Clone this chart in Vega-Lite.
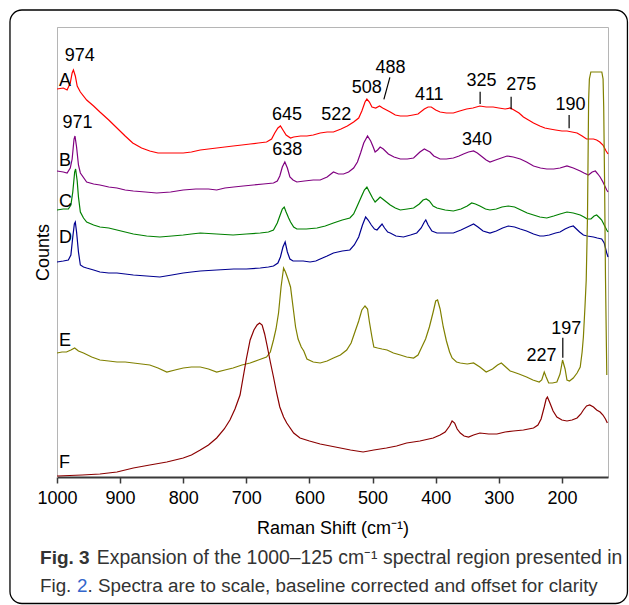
{
  "$schema": "https://vega.github.io/schema/vega-lite/v6.json",
  "width": 551,
  "height": 450,
  "autosize": "none",
  "padding": {"left": 57, "top": 27, "right": 21, "bottom": 128},
  "background": "white",
  "config": {
    "font": "Liberation Sans",
    "view": {"stroke": "#b5b5b5", "strokeWidth": 1},
    "axis": {"grid": false}
  },
  "datasets": {
    "spectra": [
      {"s":"A","w":1000,"v":388},{"s":"A","w":990,"v":389},{"s":"A","w":984,"v":387},{"s":"A","w":979,"v":394},{"s":"A","w":976,"v":404},{"s":"A","w":974,"v":407},{"s":"A","w":971,"v":401},{"s":"A","w":968,"v":391},{"s":"A","w":963,"v":385},{"s":"A","w":953,"v":377},{"s":"A","w":942,"v":371},{"s":"A","w":932,"v":365},{"s":"A","w":918,"v":357},{"s":"A","w":905,"v":349},{"s":"A","w":892,"v":341},{"s":"A","w":880,"v":334},{"s":"A","w":866,"v":329},{"s":"A","w":853,"v":326},{"s":"A","w":840,"v":324},{"s":"A","w":826,"v":324},{"s":"A","w":813,"v":324},{"s":"A","w":800,"v":324},{"s":"A","w":787,"v":325},{"s":"A","w":773,"v":327},{"s":"A","w":760,"v":328},{"s":"A","w":747,"v":329},{"s":"A","w":734,"v":330},{"s":"A","w":721,"v":331},{"s":"A","w":707,"v":332},{"s":"A","w":694,"v":333},{"s":"A","w":681,"v":334},{"s":"A","w":668,"v":335},{"s":"A","w":660,"v":338},{"s":"A","w":655,"v":344},{"s":"A","w":650,"v":349},{"s":"A","w":646,"v":351},{"s":"A","w":642,"v":347},{"s":"A","w":637,"v":342},{"s":"A","w":630,"v":339},{"s":"A","w":625,"v":340},{"s":"A","w":614,"v":341},{"s":"A","w":604,"v":341},{"s":"A","w":594,"v":342},{"s":"A","w":583,"v":344},{"s":"A","w":572,"v":345},{"s":"A","w":562,"v":345},{"s":"A","w":550,"v":348},{"s":"A","w":540,"v":351},{"s":"A","w":530,"v":355},{"s":"A","w":522,"v":359},{"s":"A","w":517,"v":366},{"s":"A","w":512,"v":375},{"s":"A","w":509,"v":378},{"s":"A","w":505,"v":375},{"s":"A","w":501,"v":370},{"s":"A","w":495,"v":369},{"s":"A","w":489,"v":371},{"s":"A","w":484,"v":369},{"s":"A","w":478,"v":367},{"s":"A","w":472,"v":365},{"s":"A","w":464,"v":362},{"s":"A","w":456,"v":361},{"s":"A","w":445,"v":361},{"s":"A","w":436,"v":362},{"s":"A","w":428,"v":363},{"s":"A","w":418,"v":368},{"s":"A","w":412,"v":370},{"s":"A","w":407,"v":370},{"s":"A","w":400,"v":367},{"s":"A","w":393,"v":365},{"s":"A","w":383,"v":364},{"s":"A","w":372,"v":364},{"s":"A","w":362,"v":366},{"s":"A","w":351,"v":368},{"s":"A","w":341,"v":369},{"s":"A","w":330,"v":371},{"s":"A","w":320,"v":370},{"s":"A","w":309,"v":370},{"s":"A","w":300,"v":369},{"s":"A","w":290,"v":368},{"s":"A","w":282,"v":369},{"s":"A","w":276,"v":367},{"s":"A","w":268,"v":364},{"s":"A","w":261,"v":360},{"s":"A","w":253,"v":357},{"s":"A","w":245,"v":354},{"s":"A","w":235,"v":351},{"s":"A","w":227,"v":349},{"s":"A","w":219,"v":348},{"s":"A","w":210,"v":347},{"s":"A","w":200,"v":346},{"s":"A","w":192,"v":346},{"s":"A","w":184,"v":345},{"s":"A","w":176,"v":344},{"s":"A","w":168,"v":341},{"s":"A","w":161,"v":338},{"s":"A","w":155,"v":338},{"s":"A","w":150,"v":338},{"s":"A","w":145,"v":337},{"s":"A","w":140,"v":335},{"s":"A","w":135,"v":332},{"s":"A","w":130,"v":326},{"s":"A","w":127,"v":323},
      {"s":"B","w":1000,"v":306},{"s":"B","w":990,"v":305},{"s":"B","w":984,"v":304},{"s":"B","w":979,"v":309},{"s":"B","w":976,"v":318},{"s":"B","w":973,"v":338},{"s":"B","w":971.5,"v":341},{"s":"B","w":969,"v":330},{"s":"B","w":966,"v":312},{"s":"B","w":963,"v":304},{"s":"B","w":953,"v":295},{"s":"B","w":942,"v":293},{"s":"B","w":932,"v":292},{"s":"B","w":918,"v":290},{"s":"B","w":905,"v":289},{"s":"B","w":892,"v":287},{"s":"B","w":879,"v":286},{"s":"B","w":860,"v":285},{"s":"B","w":842,"v":284},{"s":"B","w":820,"v":285},{"s":"B","w":800,"v":287},{"s":"B","w":780,"v":288},{"s":"B","w":760,"v":288},{"s":"B","w":747,"v":287},{"s":"B","w":734,"v":289},{"s":"B","w":720,"v":290},{"s":"B","w":705,"v":291},{"s":"B","w":689,"v":292},{"s":"B","w":673,"v":293},{"s":"B","w":657,"v":294},{"s":"B","w":651,"v":296},{"s":"B","w":647,"v":301},{"s":"B","w":643,"v":310},{"s":"B","w":639,"v":315},{"s":"B","w":635,"v":309},{"s":"B","w":631,"v":300},{"s":"B","w":626,"v":297},{"s":"B","w":620,"v":295},{"s":"B","w":608,"v":296},{"s":"B","w":594,"v":297},{"s":"B","w":583,"v":297},{"s":"B","w":572,"v":300},{"s":"B","w":562,"v":305},{"s":"B","w":554,"v":303},{"s":"B","w":546,"v":303},{"s":"B","w":538,"v":305},{"s":"B","w":530,"v":309},{"s":"B","w":524,"v":315},{"s":"B","w":519,"v":324},{"s":"B","w":514,"v":334},{"s":"B","w":508,"v":341},{"s":"B","w":503,"v":336},{"s":"B","w":499,"v":330},{"s":"B","w":496,"v":325},{"s":"B","w":492,"v":327},{"s":"B","w":488,"v":330},{"s":"B","w":483,"v":328},{"s":"B","w":475,"v":323},{"s":"B","w":466,"v":320},{"s":"B","w":456,"v":318},{"s":"B","w":445,"v":318},{"s":"B","w":435,"v":319},{"s":"B","w":425,"v":325},{"s":"B","w":418,"v":328},{"s":"B","w":412,"v":326},{"s":"B","w":409,"v":325},{"s":"B","w":403,"v":321},{"s":"B","w":393,"v":318},{"s":"B","w":383,"v":318},{"s":"B","w":372,"v":319},{"s":"B","w":363,"v":321},{"s":"B","w":356,"v":323},{"s":"B","w":348,"v":325},{"s":"B","w":340,"v":326},{"s":"B","w":334,"v":324},{"s":"B","w":326,"v":320},{"s":"B","w":320,"v":317},{"s":"B","w":314,"v":315},{"s":"B","w":305,"v":317},{"s":"B","w":296,"v":319},{"s":"B","w":287,"v":321},{"s":"B","w":277,"v":320},{"s":"B","w":266,"v":318},{"s":"B","w":256,"v":315},{"s":"B","w":245,"v":311},{"s":"B","w":234,"v":309},{"s":"B","w":224,"v":308},{"s":"B","w":213,"v":308},{"s":"B","w":203,"v":309},{"s":"B","w":192,"v":311},{"s":"B","w":182,"v":309},{"s":"B","w":171,"v":306},{"s":"B","w":165,"v":304},{"s":"B","w":158,"v":302},{"s":"B","w":152,"v":305},{"s":"B","w":147,"v":306},{"s":"B","w":143,"v":303},{"s":"B","w":139.5,"v":300},{"s":"B","w":135,"v":295},{"s":"B","w":129,"v":287},{"s":"B","w":127,"v":285},
      {"s":"C","w":1000,"v":267},{"s":"C","w":990,"v":268},{"s":"C","w":982,"v":268},{"s":"C","w":978,"v":272},{"s":"C","w":975,"v":285},{"s":"C","w":972,"v":305},{"s":"C","w":970.5,"v":308},{"s":"C","w":968,"v":296},{"s":"C","w":966,"v":280},{"s":"C","w":963,"v":265},{"s":"C","w":958,"v":259},{"s":"C","w":953,"v":255},{"s":"C","w":942,"v":252},{"s":"C","w":932,"v":250},{"s":"C","w":918,"v":249},{"s":"C","w":905,"v":247},{"s":"C","w":892,"v":245},{"s":"C","w":879,"v":243},{"s":"C","w":858,"v":241},{"s":"C","w":837,"v":240},{"s":"C","w":818,"v":241},{"s":"C","w":800,"v":242},{"s":"C","w":787,"v":243},{"s":"C","w":773,"v":244},{"s":"C","w":747,"v":243},{"s":"C","w":721,"v":242},{"s":"C","w":700,"v":243},{"s":"C","w":678,"v":244},{"s":"C","w":665,"v":245},{"s":"C","w":657,"v":247},{"s":"C","w":651,"v":254},{"s":"C","w":647,"v":261},{"s":"C","w":643,"v":268},{"s":"C","w":640,"v":270},{"s":"C","w":637,"v":265},{"s":"C","w":633,"v":259},{"s":"C","w":630,"v":255},{"s":"C","w":625,"v":250},{"s":"C","w":620,"v":248},{"s":"C","w":605,"v":248},{"s":"C","w":588,"v":249},{"s":"C","w":575,"v":251},{"s":"C","w":562,"v":254},{"s":"C","w":548,"v":257},{"s":"C","w":536,"v":259},{"s":"C","w":530,"v":263},{"s":"C","w":525,"v":270},{"s":"C","w":518,"v":280},{"s":"C","w":513,"v":287},{"s":"C","w":509,"v":290},{"s":"C","w":505,"v":285},{"s":"C","w":500,"v":279},{"s":"C","w":496,"v":275},{"s":"C","w":491,"v":278},{"s":"C","w":488,"v":280},{"s":"C","w":484,"v":278},{"s":"C","w":478,"v":275},{"s":"C","w":472,"v":272},{"s":"C","w":464,"v":269},{"s":"C","w":456,"v":267},{"s":"C","w":445,"v":268},{"s":"C","w":435,"v":269},{"s":"C","w":426,"v":273},{"s":"C","w":420,"v":277},{"s":"C","w":415,"v":278},{"s":"C","w":410,"v":276},{"s":"C","w":404,"v":271},{"s":"C","w":398,"v":269},{"s":"C","w":385,"v":267},{"s":"C","w":372,"v":266},{"s":"C","w":360,"v":268},{"s":"C","w":350,"v":271},{"s":"C","w":343,"v":274},{"s":"C","w":337,"v":273},{"s":"C","w":330,"v":271},{"s":"C","w":321,"v":268},{"s":"C","w":314,"v":267},{"s":"C","w":304,"v":268},{"s":"C","w":295,"v":270},{"s":"C","w":285,"v":271},{"s":"C","w":275,"v":270},{"s":"C","w":265,"v":267},{"s":"C","w":255,"v":264},{"s":"C","w":245,"v":262},{"s":"C","w":235,"v":260},{"s":"C","w":224,"v":259},{"s":"C","w":213,"v":261},{"s":"C","w":203,"v":263},{"s":"C","w":192,"v":265},{"s":"C","w":182,"v":264},{"s":"C","w":171,"v":262},{"s":"C","w":165,"v":260},{"s":"C","w":160,"v":258},{"s":"C","w":154,"v":258},{"s":"C","w":149,"v":261},{"s":"C","w":145,"v":262},{"s":"C","w":140,"v":259},{"s":"C","w":137,"v":257},{"s":"C","w":133,"v":252},{"s":"C","w":129,"v":247},{"s":"C","w":127,"v":245},
      {"s":"D","w":1000,"v":215},{"s":"D","w":990,"v":216},{"s":"D","w":982,"v":217},{"s":"D","w":978,"v":222},{"s":"D","w":975,"v":240},{"s":"D","w":972.5,"v":253},{"s":"D","w":971,"v":255},{"s":"D","w":969,"v":245},{"s":"D","w":966,"v":225},{"s":"D","w":963,"v":212},{"s":"D","w":958,"v":210},{"s":"D","w":953,"v":209},{"s":"D","w":942,"v":207},{"s":"D","w":932,"v":205},{"s":"D","w":918,"v":204},{"s":"D","w":905,"v":204},{"s":"D","w":892,"v":203},{"s":"D","w":879,"v":202},{"s":"D","w":858,"v":201},{"s":"D","w":837,"v":200},{"s":"D","w":818,"v":202},{"s":"D","w":800,"v":204},{"s":"D","w":787,"v":205},{"s":"D","w":773,"v":206},{"s":"D","w":747,"v":207},{"s":"D","w":720,"v":208},{"s":"D","w":700,"v":208},{"s":"D","w":678,"v":209},{"s":"D","w":665,"v":210},{"s":"D","w":657,"v":211},{"s":"D","w":650,"v":214},{"s":"D","w":646,"v":220},{"s":"D","w":642,"v":230},{"s":"D","w":638.5,"v":235},{"s":"D","w":635,"v":225},{"s":"D","w":631,"v":218},{"s":"D","w":626,"v":216},{"s":"D","w":620,"v":216},{"s":"D","w":610,"v":216},{"s":"D","w":599,"v":215},{"s":"D","w":590,"v":216},{"s":"D","w":583,"v":218},{"s":"D","w":572,"v":221},{"s":"D","w":562,"v":224},{"s":"D","w":548,"v":226},{"s":"D","w":536,"v":227},{"s":"D","w":529,"v":232},{"s":"D","w":522,"v":240},{"s":"D","w":516,"v":252},{"s":"D","w":511,"v":260},{"s":"D","w":507,"v":257},{"s":"D","w":502,"v":252},{"s":"D","w":497,"v":248},{"s":"D","w":493,"v":247},{"s":"D","w":489,"v":250},{"s":"D","w":485,"v":253},{"s":"D","w":481,"v":249},{"s":"D","w":476,"v":245},{"s":"D","w":472,"v":244},{"s":"D","w":463,"v":241},{"s":"D","w":451,"v":240},{"s":"D","w":440,"v":242},{"s":"D","w":430,"v":244},{"s":"D","w":423,"v":249},{"s":"D","w":418,"v":255},{"s":"D","w":415.7,"v":257},{"s":"D","w":412,"v":252},{"s":"D","w":406,"v":246},{"s":"D","w":398,"v":244},{"s":"D","w":385,"v":244},{"s":"D","w":372,"v":244},{"s":"D","w":360,"v":247},{"s":"D","w":350,"v":250},{"s":"D","w":340,"v":253},{"s":"D","w":333,"v":250},{"s":"D","w":325,"v":246},{"s":"D","w":314,"v":244},{"s":"D","w":304,"v":246},{"s":"D","w":294,"v":249},{"s":"D","w":285,"v":251},{"s":"D","w":275,"v":250},{"s":"D","w":266,"v":248},{"s":"D","w":256,"v":246},{"s":"D","w":245,"v":243},{"s":"D","w":235,"v":241},{"s":"D","w":229,"v":241},{"s":"D","w":220,"v":242},{"s":"D","w":210,"v":244},{"s":"D","w":203,"v":245},{"s":"D","w":195,"v":248},{"s":"D","w":188,"v":250},{"s":"D","w":182,"v":251},{"s":"D","w":177,"v":248},{"s":"D","w":172,"v":245},{"s":"D","w":166,"v":242},{"s":"D","w":160,"v":241},{"s":"D","w":150,"v":240},{"s":"D","w":144,"v":239},{"s":"D","w":137,"v":238},{"s":"D","w":133,"v":234},{"s":"D","w":129,"v":224},{"s":"D","w":127,"v":220},
      {"s":"E","w":1000,"v":124},{"s":"E","w":992,"v":125},{"s":"E","w":985,"v":125},{"s":"E","w":978,"v":127},{"s":"E","w":972,"v":129},{"s":"E","w":966,"v":126},{"s":"E","w":958,"v":124},{"s":"E","w":945,"v":120},{"s":"E","w":932,"v":117},{"s":"E","w":918,"v":116},{"s":"E","w":905,"v":115},{"s":"E","w":892,"v":115},{"s":"E","w":879,"v":114},{"s":"E","w":866,"v":113},{"s":"E","w":853,"v":112},{"s":"E","w":840,"v":109},{"s":"E","w":826,"v":105},{"s":"E","w":813,"v":107},{"s":"E","w":800,"v":109},{"s":"E","w":787,"v":110},{"s":"E","w":773,"v":110},{"s":"E","w":760,"v":108},{"s":"E","w":747,"v":105},{"s":"E","w":734,"v":107},{"s":"E","w":721,"v":109},{"s":"E","w":707,"v":112},{"s":"E","w":694,"v":114},{"s":"E","w":681,"v":117},{"s":"E","w":668,"v":120},{"s":"E","w":662,"v":125},{"s":"E","w":657,"v":137},{"s":"E","w":653,"v":148},{"s":"E","w":649,"v":164},{"s":"E","w":645,"v":190},{"s":"E","w":641,"v":209},{"s":"E","w":638,"v":205},{"s":"E","w":634,"v":198},{"s":"E","w":630,"v":190},{"s":"E","w":626,"v":170},{"s":"E","w":622,"v":150},{"s":"E","w":618,"v":138},{"s":"E","w":613,"v":130},{"s":"E","w":609,"v":126},{"s":"E","w":604,"v":118},{"s":"E","w":594,"v":115},{"s":"E","w":583,"v":114},{"s":"E","w":572,"v":116},{"s":"E","w":562,"v":119},{"s":"E","w":551,"v":122},{"s":"E","w":541,"v":127},{"s":"E","w":534,"v":134},{"s":"E","w":528,"v":145},{"s":"E","w":522,"v":156},{"s":"E","w":517,"v":167},{"s":"E","w":512,"v":171},{"s":"E","w":508,"v":168},{"s":"E","w":505,"v":155},{"s":"E","w":501,"v":140},{"s":"E","w":498,"v":130},{"s":"E","w":492,"v":129},{"s":"E","w":485,"v":128},{"s":"E","w":477,"v":127},{"s":"E","w":467,"v":124},{"s":"E","w":456,"v":122},{"s":"E","w":446,"v":120},{"s":"E","w":435,"v":119},{"s":"E","w":428,"v":122},{"s":"E","w":422,"v":130},{"s":"E","w":416,"v":138},{"s":"E","w":410,"v":150},{"s":"E","w":404,"v":165},{"s":"E","w":400,"v":176},{"s":"E","w":397,"v":177},{"s":"E","w":393,"v":168},{"s":"E","w":388,"v":150},{"s":"E","w":383,"v":136},{"s":"E","w":378,"v":125},{"s":"E","w":374,"v":119},{"s":"E","w":367,"v":115},{"s":"E","w":361,"v":114},{"s":"E","w":350,"v":113},{"s":"E","w":340,"v":114},{"s":"E","w":330,"v":110},{"s":"E","w":320,"v":105},{"s":"E","w":310,"v":108},{"s":"E","w":302,"v":112},{"s":"E","w":296,"v":114},{"s":"E","w":289,"v":110},{"s":"E","w":282,"v":106},{"s":"E","w":277,"v":105},{"s":"E","w":268,"v":103},{"s":"E","w":256,"v":100},{"s":"E","w":246,"v":97},{"s":"E","w":236,"v":95},{"s":"E","w":232,"v":97},{"s":"E","w":228,"v":105},{"s":"E","w":225,"v":100},{"s":"E","w":221,"v":94},{"s":"E","w":215,"v":94},{"s":"E","w":208,"v":95},{"s":"E","w":203,"v":103},{"s":"E","w":199,"v":117},{"s":"E","w":195,"v":108},{"s":"E","w":192,"v":97},{"s":"E","w":188,"v":96},{"s":"E","w":182,"v":99},{"s":"E","w":176,"v":104},{"s":"E","w":171,"v":110},{"s":"E","w":168,"v":125},{"s":"E","w":166,"v":140},{"s":"E","w":163.5,"v":170},{"s":"E","w":161.5,"v":197},{"s":"E","w":159.5,"v":260},{"s":"E","w":157.7,"v":377},{"s":"E","w":156.5,"v":398},{"s":"E","w":154.2,"v":405},{"s":"E","w":136.8,"v":405},{"s":"E","w":134.8,"v":398},{"s":"E","w":133.8,"v":370},{"s":"E","w":132.5,"v":300},{"s":"E","w":131,"v":200},{"s":"E","w":129.5,"v":130},{"s":"E","w":128.9,"v":102},
      {"s":"F","w":1000,"v":1},{"s":"F","w":980,"v":1.5},{"s":"F","w":960,"v":2},{"s":"F","w":932,"v":3},{"s":"F","w":905,"v":5},{"s":"F","w":879,"v":9},{"s":"F","w":853,"v":12},{"s":"F","w":826,"v":15},{"s":"F","w":800,"v":19},{"s":"F","w":787,"v":22},{"s":"F","w":773,"v":27},{"s":"F","w":760,"v":32},{"s":"F","w":747,"v":39},{"s":"F","w":735,"v":48},{"s":"F","w":726,"v":57},{"s":"F","w":718,"v":68},{"s":"F","w":710,"v":82},{"s":"F","w":705,"v":100},{"s":"F","w":700,"v":118},{"s":"F","w":694,"v":137},{"s":"F","w":688,"v":147},{"s":"F","w":683,"v":152},{"s":"F","w":679,"v":154},{"s":"F","w":675,"v":152},{"s":"F","w":671,"v":143},{"s":"F","w":667,"v":131},{"s":"F","w":662,"v":115},{"s":"F","w":657,"v":100},{"s":"F","w":652,"v":84},{"s":"F","w":647,"v":70},{"s":"F","w":641,"v":60},{"s":"F","w":636,"v":54},{"s":"F","w":625,"v":44},{"s":"F","w":615,"v":39},{"s":"F","w":600,"v":36},{"s":"F","w":583,"v":33},{"s":"F","w":567,"v":31},{"s":"F","w":551,"v":29},{"s":"F","w":535,"v":27},{"s":"F","w":515,"v":25},{"s":"F","w":498,"v":27},{"s":"F","w":478,"v":29},{"s":"F","w":462,"v":31},{"s":"F","w":446,"v":34},{"s":"F","w":425,"v":36},{"s":"F","w":404,"v":39},{"s":"F","w":393,"v":42},{"s":"F","w":385,"v":45},{"s":"F","w":378,"v":51},{"s":"F","w":374,"v":56},{"s":"F","w":370,"v":54},{"s":"F","w":366,"v":48},{"s":"F","w":361,"v":44},{"s":"F","w":355,"v":41},{"s":"F","w":348,"v":40},{"s":"F","w":340,"v":42},{"s":"F","w":330,"v":44},{"s":"F","w":316,"v":43},{"s":"F","w":303,"v":43},{"s":"F","w":290,"v":45},{"s":"F","w":277,"v":46},{"s":"F","w":261,"v":47},{"s":"F","w":245,"v":49},{"s":"F","w":238,"v":52},{"s":"F","w":233,"v":58},{"s":"F","w":228,"v":70},{"s":"F","w":225,"v":78},{"s":"F","w":223,"v":80},{"s":"F","w":219,"v":74},{"s":"F","w":214,"v":66},{"s":"F","w":208,"v":60},{"s":"F","w":200,"v":57},{"s":"F","w":192,"v":56},{"s":"F","w":184,"v":57},{"s":"F","w":176,"v":59},{"s":"F","w":170,"v":63},{"s":"F","w":166,"v":67},{"s":"F","w":161,"v":71},{"s":"F","w":156,"v":72},{"s":"F","w":150,"v":70},{"s":"F","w":145,"v":67},{"s":"F","w":139.5,"v":65},{"s":"F","w":135,"v":62},{"s":"F","w":131,"v":58},{"s":"F","w":128,"v":54}
    ],
    "letters": [
      {"w":997,"v":396.5,"t":"A"},{"w":997,"v":316.5,"t":"B"},{"w":997,"v":275.3,"t":"C"},{"w":997,"v":238.7,"t":"D"},{"w":997,"v":136,"t":"E"},{"w":997,"v":14,"t":"F"}
    ],
    "peaks": [
      {"w":964,"v":420.7,"t":"974"},{"w":967.5,"v":354,"t":"971"},{"w":635.6,"v":361.7,"t":"645"},{"w":635.2,"v":327,"t":"638"},{"w":557.5,"v":361.7,"t":"522"},{"w":509.2,"v":389.2,"t":"508"},{"w":471.5,"v":409.2,"t":"488"},{"w":410.2,"v":381.7,"t":"411"},{"w":327.3,"v":395.8,"t":"325"},{"w":264.4,"v":392.5,"t":"275"},{"w":186.5,"v":372.5,"t":"190"},{"w":334.4,"v":337.3,"t":"340"},{"w":232.5,"v":121.5,"t":"227"},{"w":193,"v":148.2,"t":"197"}
    ],
    "leaders": [
      {"w":329.6,"w2":329.6,"v":385.3,"v2":373},{"w":280.5,"w2":280.5,"v":380.3,"v2":367.7},{"w":188.6,"w2":188.6,"v":362,"v2":348.7},{"w":198.6,"w2":198.6,"v":139.3,"v2":119.3},{"w":472.6,"w2":482.1,"v":399.7,"v2":377.7}
    ],
    "frame": [
      {"w":1074.5,"w2":96.2,"v":467,"v2":-126.5}
    ],
    "capBold": [
      {"w":1026.9,"v":-81,"t":"Fig. 3"}
    ],
    "capText1": [
      {"w":937,"v":-81,"t":"Expansion of the 1000–125 cm⁻¹ spectral region presented in"}
    ],
    "capText2": [
      {"w":1026.9,"v":-109,"t":"Fig."},
      {"w":951.5,"v":-109,"t":". Spectra are to scale, baseline corrected and offset for clarity"}
    ],
    "capLink": [
      {"w":968.3,"v":-109,"t":"2"}
    ]
  },
  "layer": [
    {
      "data": {"name": "frame"},
      "mark": {"type": "rect", "filled": false, "stroke": "black", "strokeWidth": 1.3, "cornerRadius": 12, "clip": false},
      "encoding": {
        "x": {"field": "w", "type": "quantitative"},
        "x2": {"field": "w2"},
        "y": {"field": "v", "type": "quantitative"},
        "y2": {"field": "v2"}
      }
    },
    {
      "data": {"name": "spectra"},
      "mark": {"type": "line", "strokeWidth": 1.2, "interpolate": "linear"},
      "encoding": {
        "x": {
          "field": "w", "type": "quantitative",
          "scale": {"domain": [1000, 127], "nice": false, "zero": false},
          "axis": {
            "orient": "bottom", "values": [1000, 900, 800, 700, 600, 500, 400, 300, 200], "format": "d",
            "title": "Raman Shift (cm⁻¹)", "titleFontSize": 18, "titleFontWeight": "normal", "titleColor": "black", "titlePadding": 12,
            "labelFontSize": 18, "labelColor": "black", "labelPadding": 6, "labelFlush": false,
            "domainColor": "#3a3a3a", "domainWidth": 2, "tickColor": "#3a3a3a", "tickWidth": 1.5, "tickSize": 6
          }
        },
        "y": {
          "field": "v", "type": "quantitative",
          "scale": {"domain": [0, 450], "nice": false, "zero": false},
          "axis": {
            "orient": "left", "title": "Counts", "titleFontSize": 18, "titleFontWeight": "normal", "titleColor": "black", "titlePadding": 5,
            "labels": false, "ticks": false, "domainColor": "#b5b5b5", "domainWidth": 1
          }
        },
        "color": {
          "field": "s", "type": "nominal",
          "scale": {"domain": ["A", "B", "C", "D", "E", "F"], "range": ["#ff0000", "#800080", "#008000", "#000090", "#808000", "#8b0000"]},
          "legend": null
        }
      }
    },
    {
      "data": {"name": "letters"},
      "mark": {"type": "text", "align": "left", "baseline": "middle", "fontSize": 18, "color": "black", "clip": false},
      "encoding": {"x": {"field": "w", "type": "quantitative"}, "y": {"field": "v", "type": "quantitative"}, "text": {"field": "t"}}
    },
    {
      "data": {"name": "peaks"},
      "mark": {"type": "text", "align": "center", "baseline": "middle", "fontSize": 18, "color": "black", "clip": false},
      "encoding": {"x": {"field": "w", "type": "quantitative"}, "y": {"field": "v", "type": "quantitative"}, "text": {"field": "t"}}
    },
    {
      "data": {"name": "leaders"},
      "mark": {"type": "rule", "color": "black", "strokeWidth": 1.2},
      "encoding": {"x": {"field": "w", "type": "quantitative"}, "x2": {"field": "w2"}, "y": {"field": "v", "type": "quantitative"}, "y2": {"field": "v2"}}
    },
    {
      "mark": {"type": "rule", "color": "black", "strokeWidth": 1.5},
      "encoding": {"x": {"datum": 127, "type": "quantitative"}, "y": {"datum": 0, "type": "quantitative"}, "y2": {"datum": 450}}
    },
    {
      "data": {"name": "capBold"},
      "mark": {"type": "text", "align": "left", "baseline": "middle", "fontSize": 19, "fontWeight": "bold", "color": "#333333", "clip": false},
      "encoding": {"x": {"field": "w", "type": "quantitative"}, "y": {"field": "v", "type": "quantitative"}, "text": {"field": "t"}}
    },
    {
      "data": {"name": "capText1"},
      "mark": {"type": "text", "align": "left", "baseline": "middle", "fontSize": 19.4, "color": "#333333", "clip": false},
      "encoding": {"x": {"field": "w", "type": "quantitative"}, "y": {"field": "v", "type": "quantitative"}, "text": {"field": "t"}}
    },
    {
      "data": {"name": "capText2"},
      "mark": {"type": "text", "align": "left", "baseline": "middle", "fontSize": 18.8, "color": "#333333", "clip": false},
      "encoding": {"x": {"field": "w", "type": "quantitative"}, "y": {"field": "v", "type": "quantitative"}, "text": {"field": "t"}}
    },
    {
      "data": {"name": "capLink"},
      "mark": {"type": "text", "align": "left", "baseline": "middle", "fontSize": 18.8, "color": "#3366cc", "clip": false},
      "encoding": {"x": {"field": "w", "type": "quantitative"}, "y": {"field": "v", "type": "quantitative"}, "text": {"field": "t"}}
    }
  ]
}
